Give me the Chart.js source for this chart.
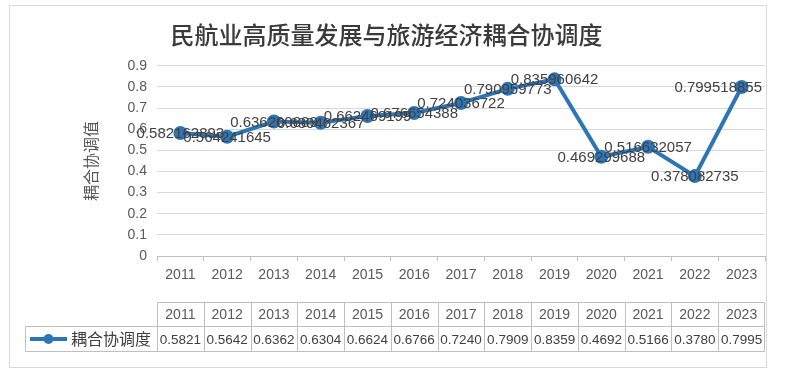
<!DOCTYPE html>
<html><head><meta charset="utf-8">
<script src="https://cdn.jsdelivr.net/npm/chart.js@4"></script>
<style>html,body{margin:0;padding:0;background:#fff}#wrap{width:791px;height:374px;position:relative}</style>
</head><body><div id="wrap"><canvas id="c" width="791" height="374"></canvas></div>
<script>
const chartTitle = '民航业高质量发展与旅游经济耦合协调度';
const yAxisTitle = '耦合协调值';
const seriesName = '耦合协调度';
const years = ['2011','2012','2013','2014','2015','2016','2017','2018','2019','2020','2021','2022','2023'];
const couplingValues = [0.582162893,0.564241645,0.636200889,0.630462367,0.662469199,0.676654388,0.724036722,0.790959773,0.835960642,0.469299688,0.516632057,0.378082735,0.799518855];
const tableValues = ['0.5821','0.5642','0.6362','0.6304','0.6624','0.6766','0.7240','0.7909','0.8359','0.4692','0.5166','0.3780','0.7995'];
const yMin = 0, yMax = 0.9, yStep = 0.1;

const BLUE = '#2E75B6';
const NUM_FONT = 'Liberation Sans, Arial, sans-serif';
const CJK_FONT = '"Noto Sans CJK SC", sans-serif';

const frame = {
  id: 'frame',
  beforeDraw(chart) {
    const ctx = chart.ctx;
    ctx.save();
    ctx.fillStyle = '#fff';
    ctx.fillRect(0, 0, chart.width, chart.height);
    ctx.strokeStyle = '#d9d9d9';
    ctx.lineWidth = 1;
    ctx.strokeRect(9.5, 5.5, 757, 362);
    ctx.restore();
  }
};

const valueLabels = {
  id: 'valueLabels',
  afterDatasetsDraw(chart) {
    const ctx = chart.ctx;
    const meta = chart.getDatasetMeta(0);
    const area = chart.chartArea;
    ctx.save();
    ctx.font = '15px ' + NUM_FONT;
    ctx.fillStyle = '#404040';
    ctx.textBaseline = 'middle';
    ctx.textAlign = 'left';
    meta.data.forEach((pt, i) => {
      const txt = String(couplingValues[i]);
      const w = ctx.measureText(txt).width;
      let x = pt.x - w / 2;
      if (x + w > area.right - 3) x = area.right - 3 - w;
      ctx.fillText(txt, x, pt.y + 1);
    });
    ctx.restore();
  }
};

const dataTable = {
  id: 'dataTable',
  afterDraw(chart) {
    const ctx = chart.ctx;
    const xs = chart.scales.x;
    const n = years.length;
    const cw = (xs.right - xs.left) / n;
    const top = 302.5, mid = 326.5, bot = 351.5, leftCell = 25.5;
    ctx.save();
    ctx.strokeStyle = '#bfbfbf';
    ctx.lineWidth = 1;
    ctx.beginPath();
    const L = Math.round(xs.left) + 0.5, R = Math.round(xs.right) - 0.5;
    ctx.moveTo(L, top); ctx.lineTo(R, top);
    ctx.moveTo(leftCell, mid); ctx.lineTo(R, mid);
    ctx.moveTo(leftCell, bot); ctx.lineTo(R, bot);
    ctx.moveTo(leftCell, mid); ctx.lineTo(leftCell, bot);
    for (let i = 0; i <= n; i++) {
      const x = i === n ? R : Math.round(xs.left + i * cw) + 0.5;
      ctx.moveTo(x, top); ctx.lineTo(x, bot);
    }
    ctx.stroke();
    ctx.textAlign = 'center';
    ctx.textBaseline = 'middle';
    ctx.font = '14px ' + NUM_FONT;
    ctx.fillStyle = '#595959';
    for (let i = 0; i < n; i++) {
      const cx = xs.getPixelForValue(i);
      ctx.fillText(years[i], cx, (top + mid) / 2 + 1);
    }
    ctx.font = '13.5px ' + NUM_FONT;
    ctx.fillStyle = '#404040';
    for (let i = 0; i < n; i++) {
      const cx = xs.getPixelForValue(i);
      ctx.fillText(tableValues[i], cx, (mid + bot) / 2 + 1);
    }
    // legend key
    const ly = (mid + bot) / 2;
    ctx.strokeStyle = BLUE;
    ctx.lineWidth = 4;
    ctx.beginPath();
    ctx.moveTo(30, ly); ctx.lineTo(67, ly);
    ctx.stroke();
    ctx.fillStyle = BLUE;
    ctx.beginPath();
    ctx.arc(48.5, ly, 5, 0, Math.PI * 2);
    ctx.fill();
    ctx.textAlign = 'left';
    ctx.font = '16px ' + CJK_FONT;
    ctx.fillStyle = '#404040';
    ctx.fillText(seriesName, 71, ly);
    ctx.restore();
  }
};

new Chart(document.getElementById('c'), {
  type: 'line',
  data: {
    labels: years,
    datasets: [{
      label: seriesName,
      data: couplingValues,
      borderColor: BLUE,
      backgroundColor: BLUE,
      borderWidth: 4,
      pointRadius: 5,
      pointHoverRadius: 5,
      pointBackgroundColor: BLUE,
      pointBorderColor: BLUE,
      tension: 0,
      fill: false
    }]
  },
  options: {
    responsive: false,
    animation: false,
    devicePixelRatio: 1,
    layout: { padding: { top: 0, left: 8, right: 26, bottom: 0 } },
    plugins: {
      legend: { display: false },
      tooltip: { enabled: false },
      title: {
        display: true,
        text: chartTitle,
        color: '#3a3a3a',
        font: { family: CJK_FONT, size: 24, weight: '500' },
        padding: { top: 20, bottom: 17 }
      }
    },
    scales: {
      x: {
        offset: true,
        grid: { display: true, drawOnChartArea: false, drawTicks: true, tickLength: 5, offset: true, color: '#bfbfbf' },
        border: { display: true, color: '#bfbfbf' },
        ticks: { color: '#595959', font: { family: NUM_FONT, size: 14 }, padding: 6, maxRotation: 0, autoSkip: false },
        afterFit(s) { s.height = 118; }
      },
      y: {
        min: yMin, max: yMax,
        grid: { color: '#d9d9d9', drawTicks: false },
        border: { display: false },
        ticks: {
          stepSize: yStep, padding: 10, color: '#595959',
          font: { family: NUM_FONT, size: 14 },
          callback: v => String(+v.toFixed(1))
        },
        title: {
          display: true, text: yAxisTitle, color: '#595959',
          font: { family: CJK_FONT, size: 16 },
          padding: { top: 73, bottom: 0 }
        },
        afterFit(s) { s.width = 149; }
      }
    }
  },
  plugins: [frame, valueLabels, dataTable]
});
</script></body></html>
